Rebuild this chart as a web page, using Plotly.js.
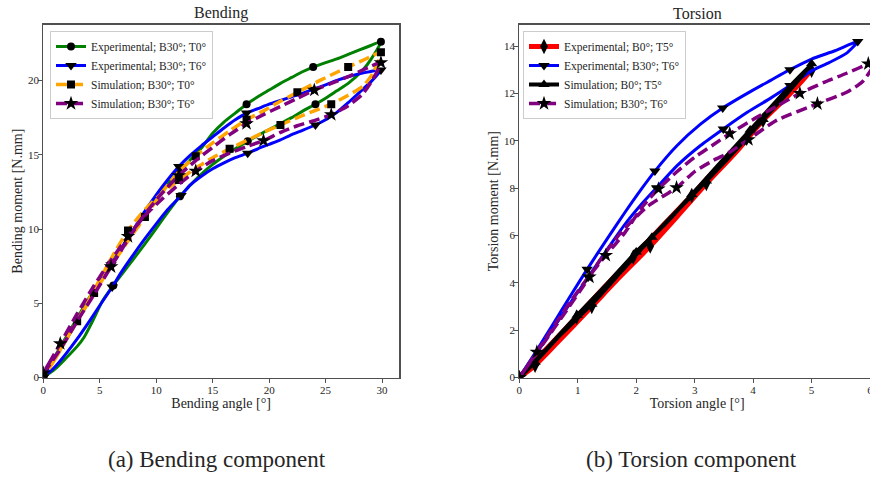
<!DOCTYPE html>
<html>
<head>
<meta charset="utf-8">
<script src="https://cdn.plot.ly/plotly-3.0.1.min.js"></script>
<style>
  html, body { margin: 0; padding: 0; background: #fff; overflow: hidden; width: 870px; height: 477px; }
  #chart { width: 880px; height: 477px; }
</style>
</head>
<body>
<div id="chart"></div>
<script>
// ---------------- Bending component (a) ----------------
const bendLegendNames = ['Experimental; B30°; T0°', 'Experimental; B30°; T6°', 'Simulation; B30°; T0°', 'Simulation; B30°; T6°'];

const bendExpT0X = [0,1,2,3,3.6,4.3,5.2,6.2,7,8,9,10,11,12.1,13,14,15,16,17,18.1,19,20,21,22,23,24.1,25,26,27,28.3,29,29.9,
                    29,28,27,26,25,23.9,23,22,21,20,19,18,17,16,15,14,13,12,11,10,9,8,7,6,5,4,3,2,1,0];
const bendExpT0Y = [0,0.55,1.3,2.1,2.7,3.7,5.1,6.2,7.0,8.0,9.0,10.05,11.1,12.2,12.95,13.7,14.35,14.9,15.4,15.9,16.3,16.7,17.1,17.5,17.95,18.4,18.8,19.3,19.8,20.7,21.4,22.6,
                    22.35,22.05,21.75,21.45,21.2,20.9,20.6,20.2,19.8,19.35,18.9,18.4,17.8,17.2,16.45,15.45,14.65,13.85,13.0,12.0,11.0,9.9,8.8,7.7,6.5,5.3,4.0,2.7,1.4,0.1];
const bendExpT0Marks = [0,7,13,19,25,31,37,43,49,55,61];

const bendExpT6X = [0,1,2,3,4,5,6.1,7,8,9,10,11,12.2,13,14,15,16,17,18.1,19,20,21,22,23,24.1,25,26,27,28,29,29.9,
                    29,28,27,26,25,23.9,23,22,21,20,19,18,17,16,15,14,13,12,11,10,9,8,7,6,5,4,3,2,1,0];
const bendExpT6Y = [0,0.7,1.6,2.6,3.7,4.85,6.1,7.2,8.3,9.35,10.35,11.3,12.25,12.95,13.55,14.05,14.45,14.8,15.1,15.4,15.7,16.0,16.35,16.65,17.0,17.35,17.85,18.5,19.2,19.9,20.7,
                    20.6,20.45,20.25,20.0,19.7,19.4,19.15,18.9,18.65,18.4,18.1,17.8,17.35,16.8,16.2,15.6,14.95,14.2,13.3,12.3,11.2,10.0,8.8,7.6,6.4,5.1,3.8,2.5,1.3,0.1];
const bendExpT6Marks = [0,6,12,18,24,30,36,42,48,54,60];

const bendSimT0X = [0,1,2,3,4,5,6,7.5,9,10.5,12,13.5,15,16.5,18,19.5,21,22.5,24,25.5,27,28.3,29.2,29.9,
                    29,28,27,26,24.5,22.5,21,19.5,18,16.5,15,13.5,12,10.5,9,7.5,6,4.5,3,1.5,0];
const bendSimT0Y = [0,1.2,2.5,3.8,5.2,6.6,8.0,9.9,11.3,12.4,13.3,14.1,14.8,15.4,15.95,16.5,17.0,17.5,17.95,18.4,19.0,19.6,20.5,21.9,
                    21.6,21.25,20.9,20.55,20.0,19.2,18.6,17.95,17.35,16.6,15.8,14.9,13.85,12.45,10.8,9.2,7.5,5.7,3.8,1.9,0];
const bendSimT0Marks = [0,3,7,10,13,16,19,23,26,29,32,35,38,41,44];

const bendSimT6X = [0,0.5,1.5,3,4.5,6,7.5,9,10.5,12,13.5,15,16.5,18,19.5,21,22.5,24,25.5,27,28.3,29.2,29.9,
                    29,28,27,25.5,24,22.5,21,19.5,18,16.5,15,13.5,12,10.5,9,7.5,6,4.5,3,1.5,0];
const bendSimT6Y = [0.3,0.95,2.29,4.3,6.2,7.9,9.5,10.9,12.0,13.0,13.9,14.6,15.1,15.55,15.95,16.5,16.95,17.3,17.7,18.3,19.1,20.1,21.2,
                    20.95,20.6,20.25,19.8,19.35,18.8,18.25,17.7,17.1,16.35,15.5,14.6,13.6,12.4,11.0,9.3,7.46,5.6,3.8,1.9,0.3];
const bendSimT6Marks = [0,2,6,10,14,18,22,27,31,35,39,43];

const bendXTicks = [0,5,10,15,20,25,30];
const bendYTicks = [0,5,10,15,20];

// ---------------- Torsion component (b) ----------------
const torsLegendNames = ['Experimental; B0°; T5°', 'Experimental; B30°; T6°', 'Simulation; B0°; T5°', 'Simulation; B30°; T6°'];

const torsExpB0X = [0,0.27,0.6,1.24,1.7,2.24,2.7,3.2,3.7,4.17,4.6,5.0, 4.9,4.4,3.89,3.4,2.95,2.45,1.95,1.45,0.98,0.5,0];
const torsExpB0Y = [0,0.52,1.35,3.0,4.2,5.55,6.8,8.19,9.5,10.86,11.9,12.97, 12.85,11.6,10.1,8.9,7.69,6.4,5.09,3.8,2.56,1.3,0];
const torsExpB0Marks = [0,1,3,5,7,9,11,14,16,18,20];

const torsExpB30X = [0,0.3,0.6,0.9,1.16,1.5,1.8,2.1,2.32,2.7,3.1,3.48,3.9,4.3,4.63,5.0,5.4,5.79,
                     5.6,5.3,5.0,4.63,4.3,3.9,3.49,3.1,2.7,2.35,2.1,1.8,1.5,1.18,0.9,0.6,0.3,0];
const torsExpB30Y = [0,1.15,2.35,3.55,4.57,5.85,6.95,8.0,8.72,9.8,10.7,11.38,12.0,12.55,13.0,13.45,13.8,14.19,
                     13.7,13.3,12.95,12.33,11.8,11.2,10.5,9.8,8.95,8.02,7.35,6.45,5.4,4.25,3.25,2.15,1.05,0];
const torsExpB30Marks = [0,4,8,11,14,17,21,24,27,31,35];

const torsSimB0X = [0,0.27,0.7,1.24,1.75,2.27,2.7,3.2,3.7,4.17,4.6,5.0, 4.5,3.95,3.45,2.95,2.5,2.0,1.5,0.99,0.5,0];
const torsSimB0Y = [0,0.65,1.8,3.1,4.5,5.93,7.05,8.3,9.6,10.9,12.05,13.25, 11.95,10.45,9.1,7.73,6.5,5.3,3.95,2.63,1.3,0];
const torsSimB0Marks = [0,1,3,5,7,9,11,13,15,17,19];

const torsSimB30X = [0,0.3,0.6,0.9,1.2,1.48,1.8,2.1,2.38,2.7,3.0,3.3,3.6,4.0,4.4,4.8,5.2,5.6,5.97,6.08,
                     6.02,5.86,5.6,5.1,4.4,3.92,3.6,3.32,3.0,2.69,2.18,1.72,1.38,1.2,0.8,0.4,0];
const torsSimB30Y = [0,1.08,2.2,3.3,4.3,5.16,6.1,7.2,7.97,8.7,9.3,9.8,10.3,10.9,11.45,12.0,12.45,12.85,13.25,13.4,
                     13.0,12.47,12.05,11.56,10.86,10.05,9.52,9.17,8.7,8.02,7.2,6.07,4.95,4.25,2.8,1.4,0];
const torsSimB30Marks = [0,1,5,8,12,15,18,23,25,29,33,36];

const torsXTicks = [0,1,2,3,4,5,6];
const torsYTicks = [0,2,4,6,8,10,12,14];

// ---------------- styling ----------------
const W = 880, H = 477;
const SERIF = 'Liberation Serif, Times New Roman, serif';
const TXT = '#262626';
const FRAME = '#505050';
const SIMDASH = '11px,5px';
const SZ = { circle: 8, square: 8, 'triangle-down': 10, 'triangle-up': 10, star: 11, 'diamond-tall': 11 };

function markSizes(xs, marks, size) {
  return xs.map((_, i) => marks.includes(i) ? size : 0);
}

function curve(xs, ys, marks, color, width, dash, symbol, xa, ya) {
  return {
    type: 'scatter', mode: 'lines+markers', x: xs, y: ys, xaxis: xa, yaxis: ya,
    showlegend: false, hoverinfo: 'skip',
    line: { color: color, width: width, dash: dash, shape: 'spline', smoothing: 0.6 },
    marker: { symbol: symbol, color: '#000', opacity: 1, size: markSizes(xs, marks, SZ[symbol]), line: { width: 0 } },
    cliponaxis: true
  };
}

function legendEntry(name, color, width, dash, symbol, xa, ya, legendId) {
  return {
    type: 'scatter', mode: 'lines+markers', x: [null], y: [null], xaxis: xa, yaxis: ya,
    name: name, legend: legendId, showlegend: true,
    line: { color: color, width: width, dash: dash },
    marker: { symbol: symbol, color: '#000', opacity: 1, size: SZ[symbol], line: { width: 0 } }
  };
}

const traces = [
  curve(bendExpT0X, bendExpT0Y, bendExpT0Marks, 'green', 3, 'solid', 'circle', 'x', 'y'),
  curve(bendExpT6X, bendExpT6Y, bendExpT6Marks, 'blue', 3, 'solid', 'triangle-down', 'x', 'y'),
  curve(bendSimT0X, bendSimT0Y, bendSimT0Marks, 'orange', 3.5, SIMDASH, 'square', 'x', 'y'),
  curve(bendSimT6X, bendSimT6Y, bendSimT6Marks, 'purple', 3.5, SIMDASH, 'star', 'x', 'y'),
  legendEntry(bendLegendNames[0], 'green', 3, 'solid', 'circle', 'x', 'y', 'legend'),
  legendEntry(bendLegendNames[1], 'blue', 3, 'solid', 'triangle-down', 'x', 'y', 'legend'),
  legendEntry(bendLegendNames[2], 'orange', 3.5, SIMDASH, 'square', 'x', 'y', 'legend'),
  legendEntry(bendLegendNames[3], 'purple', 3.5, SIMDASH, 'star', 'x', 'y', 'legend'),

  curve(torsExpB0X, torsExpB0Y, torsExpB0Marks, 'red', 5, 'solid', 'diamond-tall', 'x2', 'y2'),
  curve(torsExpB30X, torsExpB30Y, torsExpB30Marks, 'blue', 3, 'solid', 'triangle-down', 'x2', 'y2'),
  curve(torsSimB0X, torsSimB0Y, torsSimB0Marks, 'black', 4, 'solid', 'triangle-up', 'x2', 'y2'),
  curve(torsSimB30X, torsSimB30Y, torsSimB30Marks, 'purple', 3.5, SIMDASH, 'star', 'x2', 'y2'),
  legendEntry(torsLegendNames[0], 'red', 5, 'solid', 'diamond-tall', 'x2', 'y2', 'legend2'),
  legendEntry(torsLegendNames[1], 'blue', 3, 'solid', 'triangle-down', 'x2', 'y2', 'legend2'),
  legendEntry(torsLegendNames[2], 'black', 4, 'solid', 'triangle-up', 'x2', 'y2', 'legend2'),
  legendEntry(torsLegendNames[3], 'purple', 3.5, SIMDASH, 'star', 'x2', 'y2', 'legend2')
];

function axisBase(extra) {
  return Object.assign({
    showline: true, linecolor: FRAME, linewidth: 1.5, mirror: true,
    showgrid: false, zeroline: false,
    ticks: 'outside', ticklen: 3.5, tickwidth: 1, tickcolor: FRAME,
    tickfont: { family: SERIF, size: 11, color: TXT },
    tickmode: 'array', fixedrange: true, automargin: false
  }, extra);
}

const yDom = [(H - 377.6) / H, (H - 24.7) / H];
const titleFont = { family: SERIF, size: 14, color: TXT };

const layout = {
  width: W, height: H,
  margin: { l: 0, r: 0, t: 0, b: 0, pad: 0 },
  paper_bgcolor: '#fff', plot_bgcolor: '#fff',
  font: { family: SERIF, color: TXT },
  xaxis: axisBase({ domain: [43.3 / W, 399 / W], range: [0, 31.5], tickvals: bendXTicks, anchor: 'y', ticklabelstandoff: -2,
    title: { text: 'Bending angle [°]', font: titleFont, standoff: 0 } }),
  yaxis: axisBase({ domain: yDom, range: [0, 23.75], tickvals: bendYTicks, anchor: 'x', ticklabelstandoff: -3,
    title: { text: 'Bending moment [N.mm]', font: titleFont, standoff: 2 } }),
  xaxis2: axisBase({ domain: [519.3 / W, 875 / W], range: [0, 6.085], tickvals: torsXTicks, anchor: 'y2', ticklabelstandoff: -2,
    title: { text: 'Torsion angle [°]', font: titleFont, standoff: 0 } }),
  yaxis2: axisBase({ domain: yDom, range: [0, 14.9], tickvals: torsYTicks, anchor: 'x2', ticklabelstandoff: -3,
    title: { text: 'Torsion moment [N.mm]', font: titleFont, standoff: 2 } }),
  legend: {
    x: 50 / W, y: (H - 31) / H, xanchor: 'left', yanchor: 'top',
    bgcolor: 'rgba(255,255,255,0.8)', bordercolor: '#cccccc', borderwidth: 1,
    font: { family: SERIF, size: 11.5, color: TXT }, tracegroupgap: 0, itemwidth: 30
  },
  legend2: {
    x: 523 / W, y: (H - 31) / H, xanchor: 'left', yanchor: 'top',
    bgcolor: 'rgba(255,255,255,0.8)', bordercolor: '#cccccc', borderwidth: 1,
    font: { family: SERIF, size: 11.5, color: TXT }, tracegroupgap: 0, itemwidth: 30
  },
  annotations: [
    { text: 'Bending', xref: 'paper', yref: 'paper', x: 221 / W, y: (H - 13) / H, xanchor: 'center', yanchor: 'middle',
      showarrow: false, font: { family: SERIF, size: 16, color: TXT } },
    { text: 'Torsion', xref: 'paper', yref: 'paper', x: 697 / W, y: (H - 13) / H, xanchor: 'center', yanchor: 'middle',
      showarrow: false, font: { family: SERIF, size: 16, color: TXT } },
    { text: '(a) Bending component', xref: 'paper', yref: 'paper', x: 217 / W, y: (H - 459) / H, xanchor: 'center', yanchor: 'middle',
      showarrow: false, font: { family: SERIF, size: 23, color: TXT } },
    { text: '(b) Torsion component', xref: 'paper', yref: 'paper', x: 691 / W, y: (H - 459) / H, xanchor: 'center', yanchor: 'middle',
      showarrow: false, font: { family: SERIF, size: 23, color: TXT } }
  ]
};

Plotly.newPlot('chart', traces, layout, { staticPlot: true, displayModeBar: false });
</script>
</body>
</html>
